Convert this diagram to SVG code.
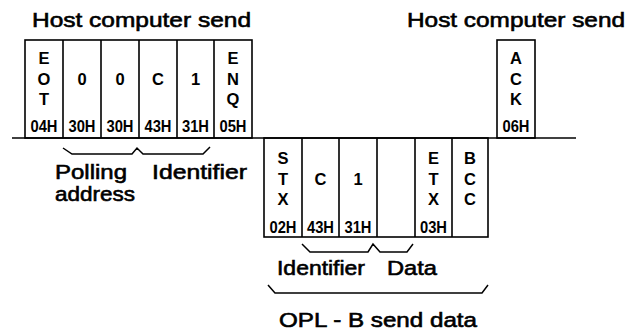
<svg xmlns="http://www.w3.org/2000/svg" width="631" height="334" viewBox="0 0 631 334">
<style>
.box{fill:none;stroke:#000;stroke-width:1.6}
.ln{fill:none;stroke:#000;stroke-width:1.5;stroke-linejoin:miter}
.ch{font-family:"Liberation Sans",Arial,sans-serif;font-weight:bold;font-size:16.5px;text-anchor:middle;fill:#000}
.hx{font-family:"Liberation Sans",Arial,sans-serif;font-weight:bold;font-size:17px;text-anchor:middle;fill:#000}
.lb{font-family:"Liberation Sans",Arial,sans-serif;font-size:20.5px;fill:#000;stroke:#000;stroke-width:0.6}
</style>
<rect width="631" height="334" fill="#fff"/>
<text class="lb" x="32" y="27" textLength="219" lengthAdjust="spacingAndGlyphs">Host computer send</text>
<text class="lb" x="407" y="27" textLength="218" lengthAdjust="spacingAndGlyphs">Host computer send</text>
<g id="host-frame">
<rect class="box" x="25" y="40" width="227" height="98"/>
<path class="box" d="M63 40V138M101 40V138M139 40V138M177 40V138M214 40V138"/>
<text class="ch" x="44" y="64">E</text><text class="ch" x="44" y="85">O</text><text class="ch" x="44" y="105">T</text>
<text class="hx" x="44" y="132" textLength="27" lengthAdjust="spacingAndGlyphs">04H</text>
<text class="ch" x="82" y="85">0</text>
<text class="hx" x="82" y="132" textLength="27" lengthAdjust="spacingAndGlyphs">30H</text>
<text class="ch" x="120" y="85">0</text>
<text class="hx" x="120" y="132" textLength="27" lengthAdjust="spacingAndGlyphs">30H</text>
<text class="ch" x="158" y="85">C</text>
<text class="hx" x="158" y="132" textLength="27" lengthAdjust="spacingAndGlyphs">43H</text>
<text class="ch" x="195.5" y="85">1</text>
<text class="hx" x="195.5" y="132" textLength="27" lengthAdjust="spacingAndGlyphs">31H</text>
<text class="ch" x="233" y="64">E</text><text class="ch" x="233" y="85">N</text><text class="ch" x="233" y="105">Q</text>
<text class="hx" x="233" y="132" textLength="27" lengthAdjust="spacingAndGlyphs">05H</text>
</g>
<g id="ack-frame">
<rect class="box" x="497" y="40" width="38" height="98"/>
<text class="ch" x="516" y="64">A</text><text class="ch" x="516" y="85">C</text><text class="ch" x="516" y="105">K</text>
<text class="hx" x="516" y="132" textLength="27" lengthAdjust="spacingAndGlyphs">06H</text>
</g>
<g id="opl-frame">
<rect class="box" x="264" y="138" width="224" height="99"/>
<path class="box" d="M302 138V237M339 138V237M377 138V237M415 138V237M452 138V237"/>
<text class="ch" x="283" y="164">S</text><text class="ch" x="283" y="185">T</text><text class="ch" x="283" y="205">X</text>
<text class="hx" x="283" y="233" textLength="27" lengthAdjust="spacingAndGlyphs">02H</text>
<text class="ch" x="320.5" y="185">C</text>
<text class="hx" x="320.5" y="233" textLength="27" lengthAdjust="spacingAndGlyphs">43H</text>
<text class="ch" x="358" y="185">1</text>
<text class="hx" x="358" y="233" textLength="27" lengthAdjust="spacingAndGlyphs">31H</text>
<text class="ch" x="433.5" y="164">E</text><text class="ch" x="433.5" y="185">T</text><text class="ch" x="433.5" y="205">X</text>
<text class="hx" x="433.5" y="233" textLength="27" lengthAdjust="spacingAndGlyphs">03H</text>
<text class="ch" x="470" y="164">B</text><text class="ch" x="470" y="185">C</text><text class="ch" x="470" y="205">C</text>
</g>
<g id="connectors">
<path class="ln" d="M12 138H576"/>
<path class="ln" d="M63 148L72 154H132L137 148L143 154H203L210 147"/>
<path class="ln" d="M302 244L310 252H368L373 244L380 252H407L413 244"/>
<path class="ln" d="M268 285L275 293H482L488 285"/>
</g>
<text class="lb" x="55" y="179" textLength="72" lengthAdjust="spacingAndGlyphs">Polling</text>
<text class="lb" x="55" y="201" textLength="80" lengthAdjust="spacingAndGlyphs">address</text>
<text class="lb" x="152" y="179" textLength="95" lengthAdjust="spacingAndGlyphs">Identifier</text>
<text class="lb" x="277" y="275" textLength="88" lengthAdjust="spacingAndGlyphs">Identifier</text>
<text class="lb" x="387" y="275" textLength="50" lengthAdjust="spacingAndGlyphs">Data</text>
<text class="lb" x="279" y="327" textLength="198" lengthAdjust="spacingAndGlyphs">OPL - B send data</text>
</svg>
